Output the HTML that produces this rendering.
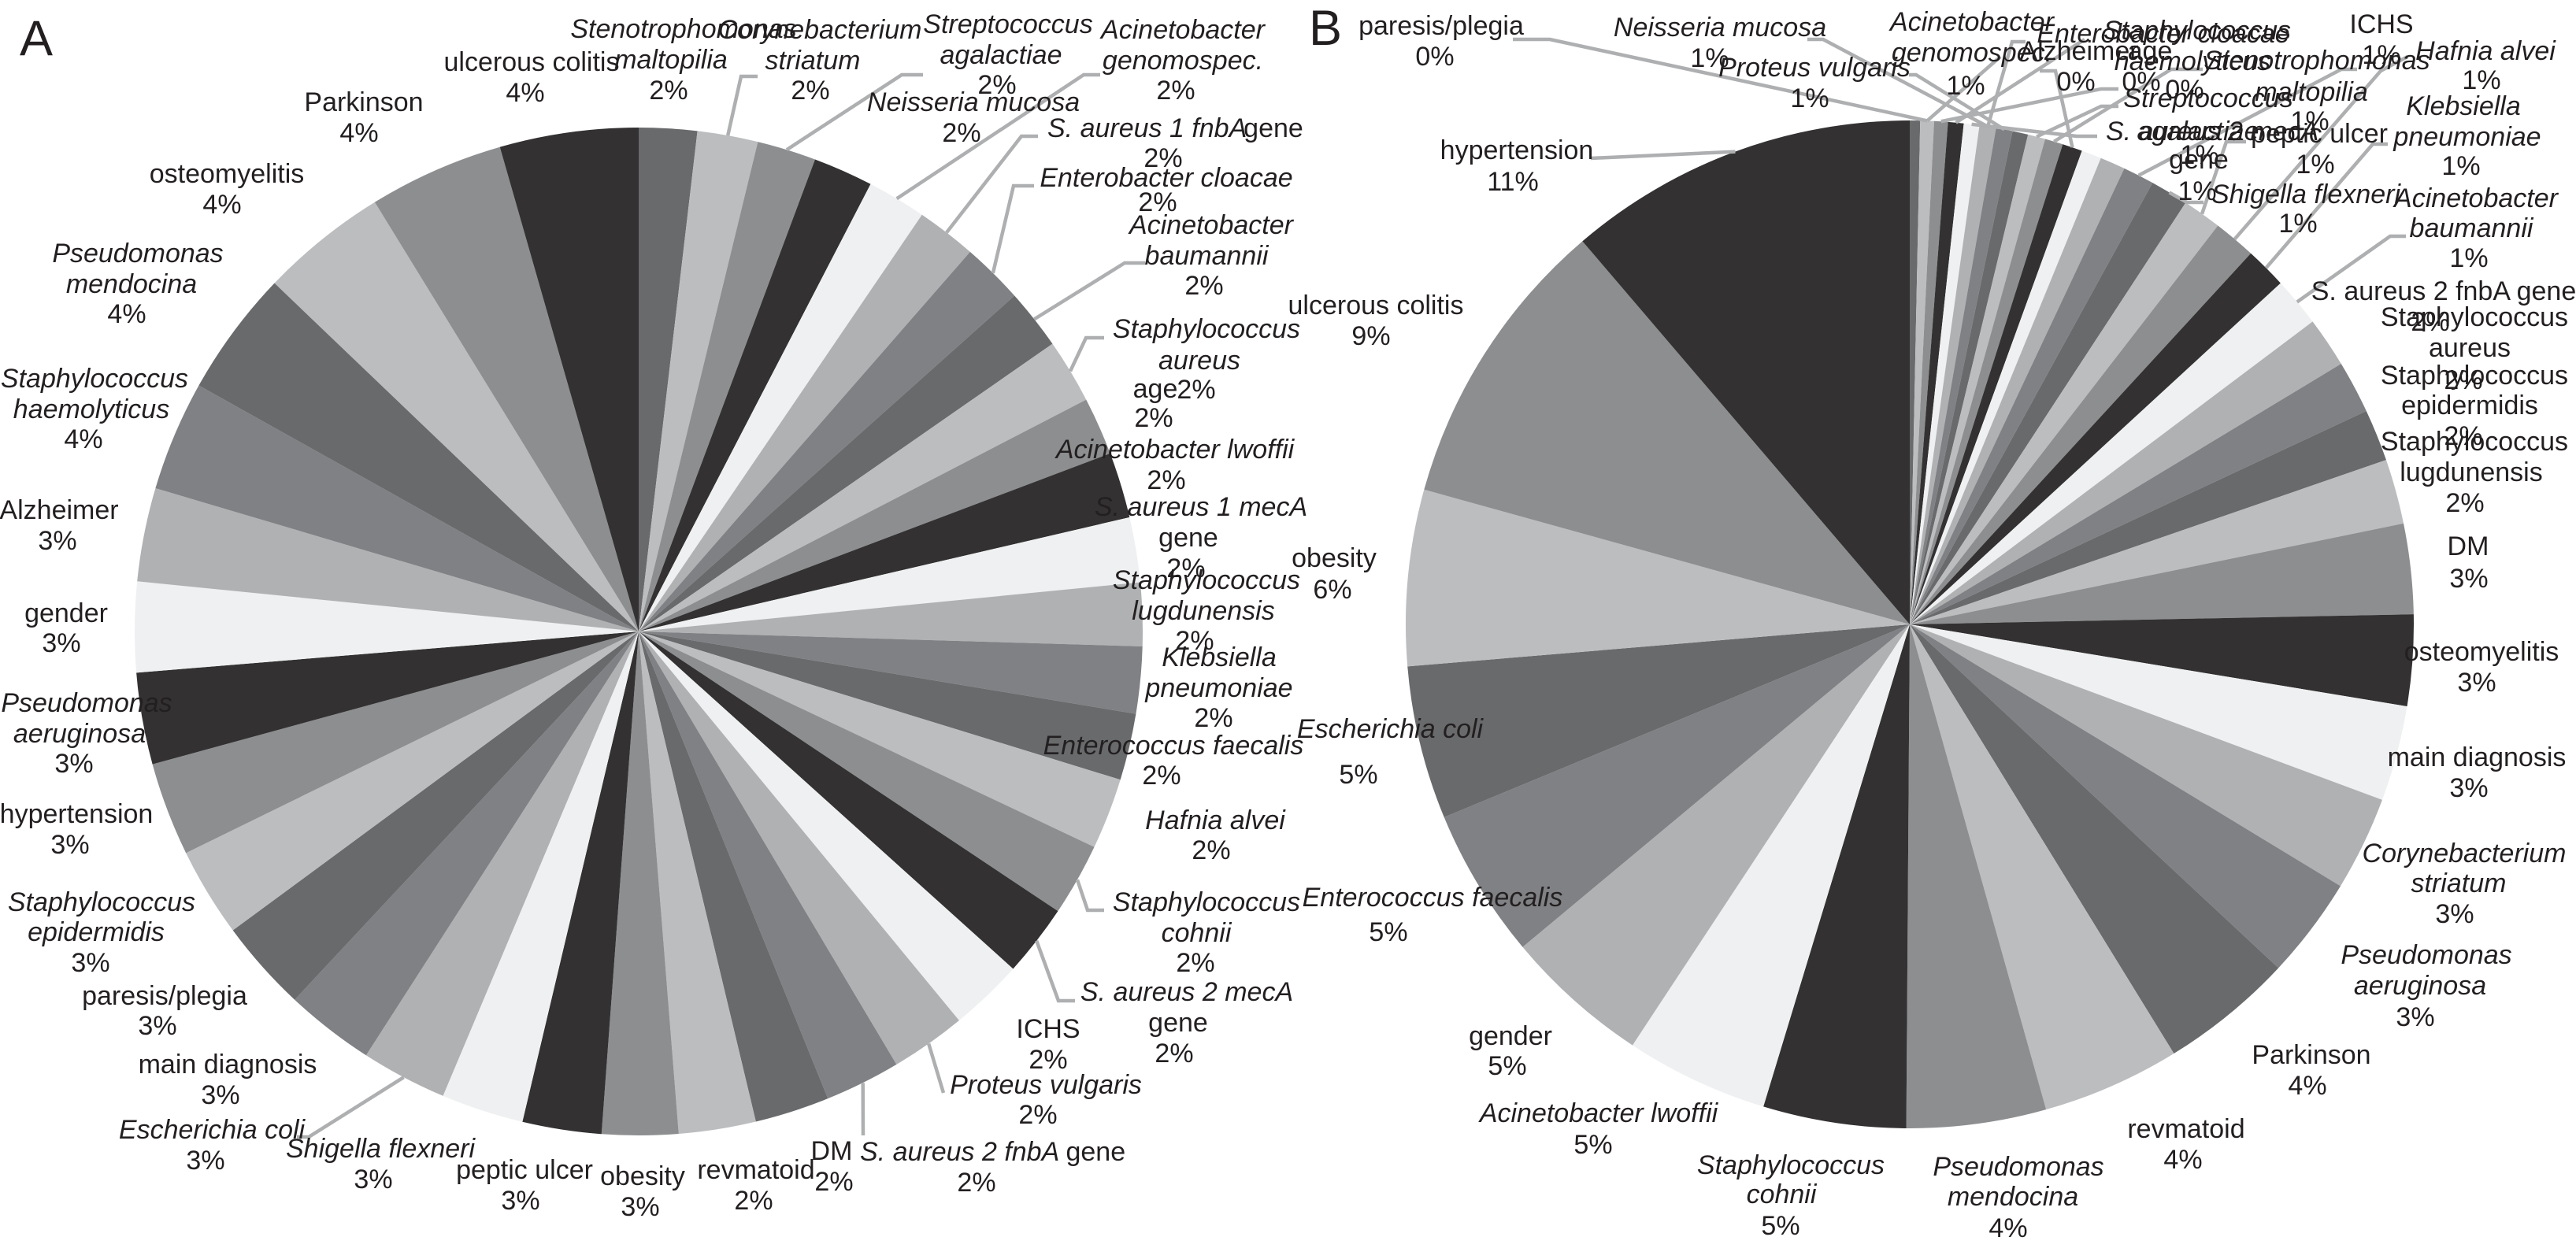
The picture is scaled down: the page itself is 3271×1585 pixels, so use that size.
<!DOCTYPE html>
<html lang="en">
<head>
<meta charset="utf-8">
<title>Pie charts A and B</title>
<style>
html,body{margin:0;padding:0;background:#fff;}
svg{display:block;}
text{font-family:"Liberation Sans",Arial,sans-serif;font-size:34px;fill:#231f20;text-anchor:middle;}
.i{font-style:italic;}
.r{font-style:normal;}
.s{text-anchor:start;}
.p{font-size:63px;text-anchor:start;}
polyline{fill:none;stroke:#aeafb1;stroke-width:4.5;stroke-linejoin:miter;}
</style>
</head>
<body>
<svg id="figure" xmlns="http://www.w3.org/2000/svg" width="3271" height="1585" viewBox="0 0 3271 1585">
<rect x="0" y="0" width="3271" height="1585" fill="#fff"/>
<g id="slices-a"></g>
<g id="slices-b"></g>

<g id="leaders-a">
<polyline data-slice="2" data-path="941,97 962,97"/>
<polyline data-slice="3" data-path="1145,95 1172,95"/>
<polyline data-slice="5" data-path="1376,95 1397,95"/>
<polyline data-slice="6" data-path="1297,173 1318,173"/>
<polyline data-slice="7" data-path="1287,236 1313,236"/>
<polyline data-slice="8" data-path="1428,334 1454,334"/>
<polyline data-slice="9" data-path="1379,429 1402,429"/>
<polyline data-slice="17" data-path="1381,1156 1402,1156"/>
<polyline data-slice="18" data-path="1344,1271 1365,1271"/>
<polyline data-slice="20" data-path="1198,1388"/>
<polyline data-slice="21" data-path="1096,1442"/>
<polyline data-slice="27" data-path="392,1444 377,1444"/>
</g>

<g id="leaders-b">
<polyline data-slice="39" data-path="2020,201"/>
<polyline data-slice="2" data-path="1968,50 1921,50"/>
<polyline data-slice="6" data-path="2315,50 2295,50"/>
<polyline data-slice="7" data-path="2433,95 2424,95"/>
<polyline data-slice="2" data-path="2540,72"/>
<polyline data-slice="3" data-path="2668,113 2690,113"/>
<polyline data-slice="4" data-path="2647,50"/>
<polyline data-slice="5" data-path="2637,173 2663,173"/>
<polyline data-slice="6" data-path="2555,53 2572,53"/>
<polyline data-slice="9" data-path="2668,135 2690,135"/>
<polyline data-slice="10" data-path="2757,88 2797,88"/>
<polyline data-slice="11" data-path="2610,90 2590,90"/>
<polyline data-slice="14" data-path="2973,88 2993,88"/>
<polyline data-slice="15" data-path="2777,257 2798,257"/>
<polyline data-slice="16" data-path="2827,180 2852,180"/>
<polyline data-slice="17" data-path="3023,90 3057,72"/>
<polyline data-slice="18" data-path="3013,183 3032,183"/>
<polyline data-slice="19" data-path="3035,300 3055,300"/>
</g>

<text class="p" x="25" y="70">A</text>
<text class="p" x="1662" y="57">B</text>

<g id="labels-a">
<text class="i"><tspan x="868" y="48">Stenotrophomonas</tspan><tspan x="852" y="87">maltopilia</tspan><tspan class="r" x="849" y="126">2%</tspan></text>
<text class="i"><tspan x="1041" y="49">Corynebacterium</tspan><tspan x="1032" y="88">striatum</tspan><tspan class="r" x="1029" y="126">2%</tspan></text>
<text class="i"><tspan x="1280" y="42">Streptococcus</tspan><tspan x="1271" y="81">agalactiae</tspan><tspan class="r" x="1266" y="119">2%</tspan></text>
<text class="i"><tspan x="1502" y="49">Acinetobacter</tspan><tspan x="1502" y="88">genomospec.</tspan><tspan class="r" x="1493" y="126">2%</tspan></text>
<text><tspan x="675" y="90">ulcerous colitis</tspan><tspan x="667" y="129">4%</tspan></text>
<text><tspan x="462" y="141">Parkinson</tspan><tspan x="456" y="180">4%</tspan></text>
<text><tspan x="288" y="232">osteomyelitis</tspan><tspan x="282" y="271">4%</tspan></text>
<text class="i"><tspan x="175" y="333">Pseudomonas</tspan><tspan x="167" y="372">mendocina</tspan><tspan class="r" x="161" y="410">4%</tspan></text>
<text class="i"><tspan x="120" y="492">Staphylococcus</tspan><tspan x="116" y="531">haemolyticus</tspan><tspan class="r" x="106" y="569">4%</tspan></text>
<text><tspan x="75" y="659">Alzheimer</tspan><tspan x="73" y="698">3%</tspan></text>
<text><tspan x="84" y="790">gender</tspan><tspan x="78" y="828">3%</tspan></text>
<text class="i"><tspan x="1236" y="141">Neisseria mucosa</tspan><tspan class="r" x="1221" y="180">2%</tspan></text>
<text class="i"><tspan class="s" x="1330" y="174">S. aureus 1 fnbA</tspan><tspan class="r" x="1617" y="174">gene</tspan><tspan class="r" x="1477" y="212">2%</tspan></text>
<text class="i"><tspan x="1481" y="237">Enterobacter cloacae</tspan><tspan class="r" x="1470" y="268">2%</tspan></text>
<text class="i"><tspan x="1538" y="297">Acinetobacter</tspan><tspan x="1532" y="336">baumannii</tspan><tspan class="r" x="1529" y="374">2%</tspan></text>
<text class="i"><tspan x="1532" y="429">Staphylococcus</tspan><tspan x="1523" y="469">aureus</tspan><tspan class="r" x="1519" y="506">2%</tspan></text>
<text><tspan x="1467" y="505">age</tspan><tspan x="1465" y="542">2%</tspan></text>
<text class="i"><tspan x="1492" y="582">Acinetobacter lwoffii</tspan><tspan class="r" x="1481" y="621">2%</tspan></text>
<text class="i"><tspan x="1525" y="655">S. aureus 1 mecA</tspan><tspan class="r" x="1509" y="694">gene</tspan><tspan class="r" x="1506" y="733">2%</tspan></text>
<text class="i"><tspan x="1532" y="748">Staphylococcus</tspan><tspan x="1528" y="787">lugdunensis</tspan><tspan class="r" x="1517" y="825">2%</tspan></text>
<text class="i"><tspan x="1548" y="846">Klebsiella</tspan><tspan x="1548" y="885">pneumoniae</tspan><tspan class="r" x="1541" y="923">2%</tspan></text>
<text class="i"><tspan x="1490" y="958">Enterococcus faecalis</tspan><tspan class="r" x="1475" y="996">2%</tspan></text>
<text class="i"><tspan x="1543" y="1053">Hafnia alvei</tspan><tspan class="r" x="1538" y="1091">2%</tspan></text>
<text class="i"><tspan x="1532" y="1157">Staphylococcus</tspan><tspan x="1519" y="1196">cohnii</tspan><tspan class="r" x="1518" y="1234">2%</tspan></text>
<text class="i"><tspan x="1507" y="1271">S. aureus 2 mecA</tspan><tspan class="r" x="1496" y="1310">gene</tspan><tspan class="r" x="1491" y="1349">2%</tspan></text>
<text><tspan x="1331" y="1318">ICHS</tspan><tspan x="1331" y="1357">2%</tspan></text>
<text class="i"><tspan x="1328" y="1389">Proteus vulgaris</tspan><tspan class="r" x="1318" y="1427">2%</tspan></text>
<text class="i"><tspan class="s" x="1092" y="1474">S. aureus 2 fnbA <tspan class="r">gene</tspan></tspan><tspan class="r" x="1240" y="1513">2%</tspan></text>
<text><tspan x="1056" y="1473">DM</tspan><tspan x="1059" y="1512">2%</tspan></text>
<text><tspan x="960" y="1497">revmatoid</tspan><tspan x="957" y="1536">2%</tspan></text>
<text><tspan x="816" y="1505">obesity</tspan><tspan x="813" y="1544">3%</tspan></text>
<text><tspan x="666" y="1497">peptic ulcer</tspan><tspan x="661" y="1536">3%</tspan></text>
<text class="i"><tspan x="483" y="1470">Shigella flexneri</tspan><tspan class="r" x="474" y="1509">3%</tspan></text>
<text class="i"><tspan x="269" y="1446">Escherichia coli</tspan><tspan class="r" x="261" y="1485">3%</tspan></text>
<text><tspan x="289" y="1363">main diagnosis</tspan><tspan x="280" y="1402">3%</tspan></text>
<text><tspan x="209" y="1276">paresis/plegia</tspan><tspan x="200" y="1314">3%</tspan></text>
<text class="i"><tspan x="129" y="1157">Staphylococcus</tspan><tspan x="122" y="1195">epidermidis</tspan><tspan class="r" x="115" y="1234">3%</tspan></text>
<text><tspan x="97" y="1045">hypertension</tspan><tspan x="89" y="1084">3%</tspan></text>
<text class="i"><tspan x="110" y="904">Pseudomonas</tspan><tspan x="101" y="943">aeruginosa</tspan><tspan class="r" x="94" y="981">3%</tspan></text>
</g>

<g id="labels-b">
<text><tspan x="1830" y="44">paresis/plegia</tspan><tspan x="1822" y="83">0%</tspan></text>
<text class="i"><tspan x="2184" y="46">Neisseria mucosa</tspan><tspan class="r" x="2171" y="85">1%</tspan></text>
<text class="i"><tspan x="2304" y="97">Proteus vulgaris</tspan><tspan class="r" x="2298" y="136">1%</tspan></text>
<text class="i"><tspan x="2504" y="39">Acinetobacter</tspan><tspan x="2504" y="78">genomospec.</tspan><tspan class="r" x="2496" y="120">1%</tspan></text>
<text class="i"><tspan x="2747" y="54">Enterobacter cloacae</tspan></text>
<text class="i"><tspan x="2790" y="50">Staphylococcus</tspan><tspan x="2784" y="89">haemolyticus</tspan><tspan class="r" x="2774" y="125">0%</tspan></text>
<text><tspan x="2640" y="76">Alzheimer</tspan><tspan x="2636" y="115">0%</tspan></text>
<text><tspan x="2730" y="76">age</tspan><tspan x="2719" y="115">0%</tspan></text>
<text class="i"><tspan x="2804" y="136">Streptococcus</tspan><tspan x="2791" y="178">agalactiae</tspan><tspan class="r" x="2793" y="208">1%</tspan></text>
<text class="i"><tspan class="s" x="2674" y="178">S. aureus 2 mecA</tspan><tspan class="r" x="2792" y="214">gene</tspan><tspan class="r" x="2790" y="254">1%</tspan></text>
<text><tspan x="2945" y="181">peptic ulcer</tspan><tspan x="2940" y="220">1%</tspan></text>
<text class="i"><tspan x="2942" y="88">Stenotrophomonas</tspan><tspan x="2935" y="128">maltopilia</tspan><tspan class="r" x="2933" y="165">1%</tspan></text>
<text class="i"><tspan x="2928" y="258">Shigella flexneri</tspan><tspan class="r" x="2918" y="295">1%</tspan></text>
<text><tspan x="3024" y="42">ICHS</tspan><tspan x="3024" y="81">1%</tspan></text>
<text class="i"><tspan x="3156" y="76">Hafnia alvei</tspan><tspan class="r" x="3151" y="113">1%</tspan></text>
<text class="i"><tspan x="3128" y="146">Klebsiella</tspan><tspan x="3133" y="185">pneumoniae</tspan><tspan class="r" x="3125" y="222">1%</tspan></text>
<text class="i"><tspan x="3144" y="263">Acinetobacter</tspan><tspan x="3138" y="301">baumannii</tspan><tspan class="r" x="3135" y="339">1%</tspan></text>
<text><tspan x="3103" y="381">S. aureus 2 fnbA gene</tspan><tspan x="3086" y="420">2%</tspan></text>
<text><tspan x="3142" y="414">Staphylococcus</tspan><tspan x="3136" y="453">aureus</tspan><tspan x="3128" y="494">2%</tspan></text>
<text><tspan x="3142" y="488">Staphylococcus</tspan><tspan x="3136" y="526">epidermidis</tspan><tspan x="3128" y="565">2%</tspan></text>
<text><tspan x="3142" y="572">Staphylococcus</tspan><tspan x="3138" y="611">lugdunensis</tspan><tspan x="3130" y="650">2%</tspan></text>
<text><tspan x="3134" y="705">DM</tspan><tspan x="3135" y="746">3%</tspan></text>
<text><tspan x="3151" y="839">osteomyelitis</tspan><tspan x="3145" y="878">3%</tspan></text>
<text><tspan x="3145" y="973">main diagnosis</tspan><tspan x="3135" y="1012">3%</tspan></text>
<text class="i"><tspan x="3129" y="1095">Corynebacterium</tspan><tspan x="3122" y="1133">striatum</tspan><tspan class="r" x="3117" y="1172">3%</tspan></text>
<text class="i"><tspan x="3081" y="1224">Pseudomonas</tspan><tspan x="3073" y="1263">aeruginosa</tspan><tspan class="r" x="3067" y="1303">3%</tspan></text>
<text><tspan x="2935" y="1351">Parkinson</tspan><tspan x="2930" y="1390">4%</tspan></text>
<text><tspan x="2776" y="1445">revmatoid</tspan><tspan x="2772" y="1484">4%</tspan></text>
<text class="i"><tspan x="2563" y="1493">Pseudomonas</tspan><tspan x="2556" y="1531">mendocina</tspan><tspan class="r" x="2550" y="1571">4%</tspan></text>
<text class="i"><tspan x="2274" y="1491">Staphylococcus</tspan><tspan x="2262" y="1528">cohnii</tspan><tspan class="r" x="2261" y="1568">5%</tspan></text>
<text class="i"><tspan x="2030" y="1425">Acinetobacter lwoffii</tspan><tspan class="r" x="2023" y="1465">5%</tspan></text>
<text><tspan x="1918" y="1327">gender</tspan><tspan x="1914" y="1365">5%</tspan></text>
<text class="i"><tspan x="1819" y="1151">Enterococcus faecalis</tspan><tspan class="r" x="1763" y="1195">5%</tspan></text>
<text class="i"><tspan x="1765" y="937">Escherichia coli</tspan><tspan class="r" x="1725" y="995">5%</tspan></text>
<text><tspan x="1694" y="720">obesity</tspan><tspan x="1692" y="760">6%</tspan></text>
<text><tspan x="1747" y="399">ulcerous colitis</tspan><tspan x="1741" y="438">9%</tspan></text>
<text><tspan x="1926" y="202">hypertension</tspan><tspan x="1921" y="242">11%</tspan></text>
</g>
</svg>

<script>
const categoriesA = ["Stenotrophomonas maltopilia","Corynebacterium striatum","Streptococcus agalactiae","Neisseria mucosa","Acinetobacter genomospec.","S. aureus 1 fnbA gene","Enterobacter cloacae","Acinetobacter baumannii","Staphylococcus aureus","age","Acinetobacter lwoffii","S. aureus 1 mecA gene","Staphylococcus lugdunensis","Klebsiella pneumoniae","Enterococcus faecalis","Hafnia alvei","Staphylococcus cohnii","S. aureus 2 mecA gene","ICHS","Proteus vulgaris","S. aureus 2 fnbA gene","DM","revmatoid","obesity","peptic ulcer","Shigella flexneri","Escherichia coli","main diagnosis","paresis/plegia","Staphylococcus epidermidis","hypertension","Pseudomonas aeruginosa","gender","Alzheimer","Staphylococcus haemolyticus","Pseudomonas mendocina","osteomyelitis","Parkinson","ulcerous colitis"];
const valuesA = [1.86,1.94,1.89,1.92,1.89,1.92,1.97,1.94,2.06,1.86,2.11,2.08,2.03,2.14,2.14,2.28,2.33,2.31,2.36,2.42,2.42,2.39,2.47,2.44,2.53,2.64,2.75,2.86,2.94,2.86,3.00,2.94,2.89,3.00,3.53,4.03,4.08,4.33,4.44];
const categoriesB = ["paresis/plegia","Acinetobacter genomospec.","age","Enterobacter cloacae","S. aureus 2 mecA gene","Neisseria mucosa","Proteus vulgaris","S. aureus 1 fnbA gene","Streptococcus agalactiae","Staphylococcus haemolyticus","Alzheimer","S. aureus 1 mecA gene","ICHS","Stenotrophomonas maltopilia","Shigella flexneri","peptic ulcer","Hafnia alvei","Klebsiella pneumoniae","Acinetobacter baumannii","S. aureus 2 fnbA gene","Staphylococcus aureus","Staphylococcus epidermidis","Staphylococcus lugdunensis","DM","osteomyelitis","main diagnosis","Corynebacterium striatum","Pseudomonas aeruginosa","Parkinson","revmatoid","Pseudomonas mendocina","Staphylococcus cohnii","Acinetobacter lwoffii","gender","Enterococcus faecalis","Escherichia coli","obesity","ulcerous colitis","hypertension"];
const valuesB = [0.33,0.44,0.44,0.50,0.50,0.53,0.53,0.50,0.56,0.58,0.64,0.64,0.81,1.00,1.22,1.25,1.36,1.33,1.58,1.61,1.69,1.67,2.08,2.89,2.92,3.06,3.03,3.25,4.28,4.42,4.47,4.58,4.58,4.67,4.81,4.92,5.64,9.44,11.25];

const palette = ['#696a6c','#bcbdbf','#8d8e90','#333132','#eff0f1','#b0b1b3','#808184'];
const SVG_NS = 'http://www.w3.org/2000/svg';

function angleScale(values) {
  const total = values.reduce(function (a, b) { return a + b; }, 0);
  return function (v) { return v / total * Math.PI * 2; };
}
function polar(cx, cy, r, a) {
  return [cx + r * Math.sin(a), cy - r * Math.cos(a)];
}
function drawPie(groupId, leadersId, prefix, categories, values, cx, cy, r) {
  const scale = angleScale(values);
  const group = document.getElementById(groupId);
  const mids = [];
  let start = 0;
  values.forEach(function (v, i) {
    const end = start + scale(v);
    const p0 = polar(cx, cy, r, start);
    const p1 = polar(cx, cy, r, end);
    const large = end - start > Math.PI ? 1 : 0;
    const el = document.createElementNS(SVG_NS, 'path');
    el.setAttribute('d', 'M' + cx + ' ' + cy + 'L' + p0[0] + ' ' + p0[1] + 'A' + r + ' ' + r + ' 0 ' + large + ' 1 ' + p1[0] + ' ' + p1[1] + 'Z');
    el.setAttribute('fill', palette[i % palette.length]);
    
    
    group.appendChild(el);
    mids.push((start + end) / 2);
    start = end;
  });
  document.querySelectorAll('#' + leadersId + ' polyline').forEach(function (line) {
    const rim = polar(cx, cy, r, mids[Number(line.getAttribute('data-slice')) - 1]);
    line.setAttribute('points', rim[0].toFixed(1) + ',' + rim[1].toFixed(1) + ' ' + line.getAttribute('data-path'));
  });
}
drawPie('slices-a', 'leaders-a', 'pie-a', categoriesA, valuesA, 811, 802, 640);
drawPie('slices-b', 'leaders-b', 'pie-b', categoriesB, valuesB, 2425, 793, 640);
</script>
</body>
</html>
